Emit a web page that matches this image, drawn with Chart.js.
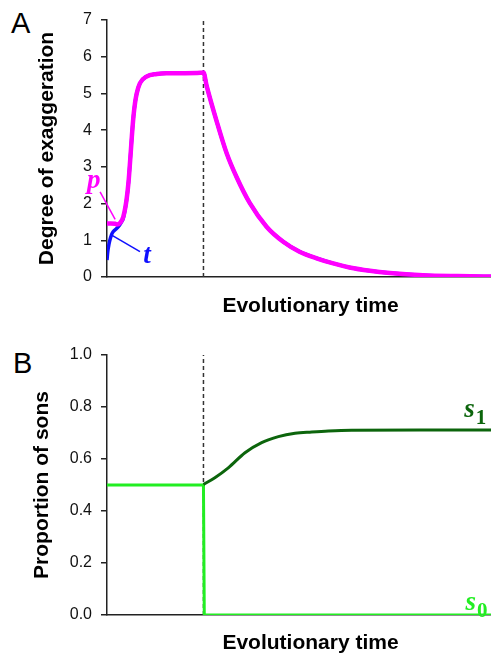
<!DOCTYPE html>
<html>
<head>
<meta charset="utf-8">
<script src="https://cdn.jsdelivr.net/npm/chart.js@4.4.1/dist/chart.umd.min.js"></script>
<style>
  html, body { margin: 0; padding: 0; background: #fff; overflow: hidden; width: 491px; height: 655px; }
  .panel { position: absolute; left: 0; }
  #panelA { top: 0; }
  #panelB { top: 320px; }
  .tag { position: absolute; font: 29px "Liberation Sans", Arial, sans-serif; line-height: 29px; color: #000; }
</style>
</head>
<body>
<div class="tag" style="left:11px; top:9px">A</div>
<div class="tag" style="left:13px; top:349px">B</div>
<canvas id="panelA" class="panel" width="514" height="320"></canvas>
<canvas id="panelB" class="panel" width="514" height="345"></canvas>

<script>
// DATA (x = evolutionary time, arbitrary units 0..100)
const shiftTime = 23.7;

const pTime   = [0, 0.9, 2.0, 2.4, 3.2, 4.0, 4.8, 5.3, 5.7, 6.1, 6.5, 6.9, 7.3, 8.1, 9.7, 12.2, 14.6, 19.2, 22.9, 23.7,
                 24.5, 27.0, 29.4, 31.8, 35.1, 39.2, 43.3, 47.3, 51.5, 55.6, 59.6, 64.6, 69.5, 77.6, 86.0, 94.3, 100];
const pValues = [1.46, 1.46, 1.45, 1.43, 1.47, 1.64, 2.1, 2.6, 3.19, 3.82, 4.37, 4.75, 5.0, 5.28, 5.46, 5.53, 5.55, 5.55, 5.56, 5.57,
                 5.2, 4.22, 3.37, 2.73, 2.01, 1.37, 0.96, 0.69, 0.51, 0.37, 0.26, 0.17, 0.11, 0.05, 0.025, 0.012, 0.005];

const tTime   = [0, 0.2, 0.5, 0.7, 1.1, 1.5, 2.8, 3.4, 4.0, 4.8, 5.3, 5.7, 6.1, 6.5, 6.9, 7.3, 8.1, 9.7, 12.2, 14.6, 19.2, 22.9, 23.7,
                 24.5, 27.0, 29.4, 31.8, 35.1, 39.2, 43.3, 47.3, 51.5, 55.6, 59.6, 64.6, 69.5, 77.6, 86.0, 94.3, 100];
const tValues = [0.46, 0.7, 0.9, 1.0, 1.15, 1.23, 1.37, 1.47, 1.6, 2.1, 2.6, 3.19, 3.82, 4.37, 4.75, 5.0, 5.28, 5.46, 5.53, 5.55, 5.55, 5.56, 5.57,
                 5.2, 4.22, 3.37, 2.73, 2.01, 1.37, 0.96, 0.69, 0.51, 0.37, 0.26, 0.17, 0.11, 0.05, 0.025, 0.012, 0.005];

const s1Time   = [23.7, 26.5, 29.8, 33.9, 38.0, 42.1, 46.2, 50.3, 54.4, 60.1, 76.9, 100];
const s1Values = [0.502, 0.528, 0.566, 0.624, 0.663, 0.686, 0.699, 0.704, 0.708, 0.711, 0.712, 0.712];

const s0Time   = [0, 23.7, 23.9, 100];
const s0Values = [0.5, 0.5, 0, 0];

// leader lines from the curve labels
const pPointerTime = [-1.7, 2.0];
const pPointerVals = [2.32, 1.57];
const tPointerTime = [1.15, 8.1];
const tPointerVals = [1.14, 0.69];

const toPoints = (xs, ys) => xs.map((x, i) => ({ x: x, y: ys[i] }));

// colours
const MAGENTA = '#ff00ff';
const BLUE = '#1010ff';
const DARK_GREEN = '#0c650c';
const LIGHT_GREEN = '#22ee22';
const AXIS = '#222';

const TITLE_FONT = { family: '"Liberation Sans", Arial, sans-serif', size: 21, weight: 'bold' };
const TICK_FONT = { family: '"Liberation Sans", Arial, sans-serif', size: 16 };

// draws italic curve labels at data coordinates
const curveLabels = {
  id: 'curveLabels',
  afterDatasetsDraw(chart, args, opts) {
    const { ctx, scales } = chart;
    (opts.items || []).forEach(item => {
      const px = scales.x.getPixelForValue(item.x);
      const py = scales.y.getPixelForValue(item.y);
      ctx.save();
      ctx.fillStyle = item.color;
      ctx.textBaseline = 'alphabetic';
      ctx.textAlign = 'left';
      ctx.font = item.font;
      ctx.fillText(item.text, px, py);
      if (item.sub) {
        const w = ctx.measureText(item.text).width;
        ctx.font = item.subFont;
        ctx.fillText(item.sub, px + w + 1, py + 7);
      }
      ctx.restore();
    });
  }
};

function yAxis(min, max, step, title, titlePad, fmt) {
  return {
    type: 'linear', min: min, max: max,
    afterFit: scale => { scale.width = 107; },
    ticks: { stepSize: step, color: '#111', font: TICK_FONT, padding: 9, callback: fmt },
    grid: { display: true, drawOnChartArea: false, drawTicks: true, tickLength: 6, color: AXIS, lineWidth: 1.5 },
    border: { display: true, color: AXIS, width: 1.5 },
    title: { display: true, text: title, color: '#000', font: TITLE_FONT, padding: { top: titlePad, bottom: 0 } }
  };
}

function xAxis(height, titlePad) {
  return {
    type: 'linear', min: 0, max: 100,
    afterFit: scale => { scale.height = height; },
    ticks: { display: false },
    grid: { display: false },
    border: { display: true, color: AXIS, width: 1.5 },
    title: { display: true, text: 'Evolutionary time', color: '#000', font: TITLE_FONT, padding: { top: 0, bottom: titlePad } }
  };
}

const LABEL_FONT = 'italic bold 27px "Liberation Serif", "DejaVu Serif", serif';
const SUB_FONT = 'bold 21px "Liberation Serif", "DejaVu Serif", serif';

// PANEL A
new Chart(document.getElementById('panelA'), {
  type: 'line',
  data: {
    datasets: [
      { label: 'p', data: toPoints(pTime, pValues), borderColor: MAGENTA, borderWidth: 4.5, pointRadius: 0, cubicInterpolationMode: 'monotone', order: 1 },
      { label: 't', data: toPoints(tTime, tValues), borderColor: BLUE, borderWidth: 3.5, pointRadius: 0, cubicInterpolationMode: 'monotone', order: 2 },
      { label: 'p pointer', data: toPoints(pPointerTime, pPointerVals), borderColor: MAGENTA, borderWidth: 1.5, pointRadius: 0, clip: false, order: 3 },
      { label: 't pointer', data: toPoints(tPointerTime, tPointerVals), borderColor: BLUE, borderWidth: 1.5, pointRadius: 0, clip: false, order: 3 },
      { label: 'shift', data: [{ x: shiftTime, y: 0 }, { x: shiftTime, y: 7 }], borderColor: '#333', borderWidth: 1.5, borderDash: [4, 3], pointRadius: 0, order: 4 }
    ]
  },
  options: {
    responsive: false,
    animation: false,
    layout: { padding: { top: 20, left: 0, right: 0, bottom: 0 } },
    plugins: {
      legend: { display: false },
      tooltip: { enabled: false },
      curveLabels: {
        items: [
          { text: 'p', x: -4.9, y: 2.42, color: MAGENTA, font: LABEL_FONT },
          { text: 't', x: 8.9, y: 0.38, color: BLUE, font: LABEL_FONT }
        ]
      }
    },
    scales: {
      x: xAxis(43, 1.5),
      y: yAxis(0, 7, 1, 'Degree of exaggeration', 35, v => v)
    }
  },
  plugins: [curveLabels]
});

// PANEL B
new Chart(document.getElementById('panelB'), {
  type: 'line',
  data: {
    datasets: [
      { label: 's1', data: toPoints(s1Time, s1Values), borderColor: DARK_GREEN, borderWidth: 3, pointRadius: 0, cubicInterpolationMode: 'monotone', order: 1 },
      { label: 's0', data: toPoints(s0Time, s0Values), borderColor: LIGHT_GREEN, borderWidth: 3, pointRadius: 0, tension: 0, order: 2 },
      { label: 'shift', data: [{ x: shiftTime, y: 0 }, { x: shiftTime, y: 1 }], borderColor: '#333', borderWidth: 1.5, borderDash: [4, 3], pointRadius: 0, order: 3 }
    ]
  },
  options: {
    responsive: false,
    animation: false,
    layout: { padding: { top: 35, left: 0, right: 0, bottom: 0 } },
    plugins: {
      legend: { display: false },
      tooltip: { enabled: false },
      curveLabels: {
        items: [
          { text: 's', sub: '1', x: 87.8, y: 0.76, color: DARK_GREEN, font: LABEL_FONT, subFont: SUB_FONT },
          { text: 's', sub: '0', x: 88.1, y: 0.02, color: LIGHT_GREEN, font: LABEL_FONT, subFont: SUB_FONT }
        ]
      }
    },
    scales: {
      x: xAxis(50, 9),
      y: yAxis(0, 1, 0.2, 'Proportion of sons', 30, v => v.toFixed(1))
    }
  },
  plugins: [curveLabels]
});
</script>
</body>
</html>
